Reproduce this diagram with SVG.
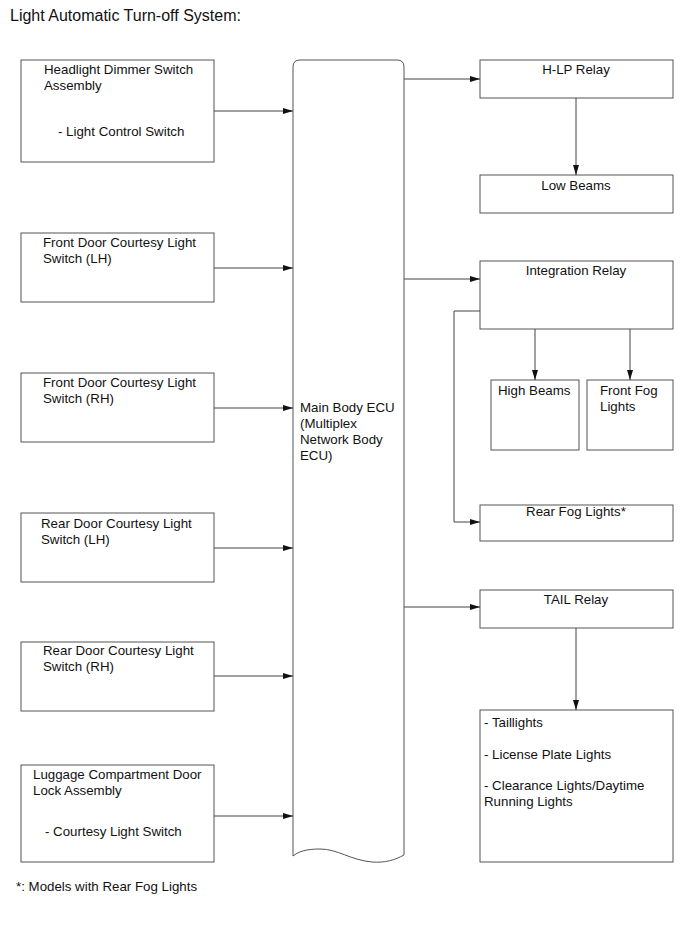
<svg xmlns="http://www.w3.org/2000/svg" width="690" height="952" viewBox="0 0 690 952">
<defs>
<marker id="ah" viewBox="0 0 10 6" refX="10" refY="3" markerWidth="10" markerHeight="6" markerUnits="userSpaceOnUse" orient="auto">
<path d="M0,0 L10,3 L0,6 z" fill="#111"/>
</marker>
</defs>
<style>
.b,.ecu{fill:#fff;stroke:#555;stroke-width:1}
text{font-family:"Liberation Sans",Arial,sans-serif;font-size:13.3px;fill:#111}
.c{text-anchor:middle}
.t{font-size:16px}
#connectors path,#connectors line{fill:none;stroke:#444;stroke-width:1;marker-end:url(#ah)}
</style>
<rect width="690" height="952" fill="#fff"/>
<text class="t" x="10" y="21">Light Automatic Turn-off System:</text>

<g id="ecu">
<path class="ecu" d="M293,856 L293,67 Q293,60 300,60 L397,60 Q404,60 404,67 L404,855 C395,860 385,863 372,862 C350,860 338,849 320,849 C305,849 298,852 293,856 Z"/>
<text x="300" y="412">Main Body ECU</text>
<text x="300" y="428">(Multiplex</text>
<text x="300" y="444">Network Body</text>
<text x="300" y="460">ECU)</text>
</g>

<g id="n1"><rect class="b" x="21" y="60" width="193" height="102"/>
<text x="44" y="74">Headlight Dimmer Switch</text><text x="44" y="90">Assembly</text>
<text x="58" y="136">- Light Control Switch</text></g>
<g id="n2"><rect class="b" x="21" y="233" width="193" height="69"/>
<text x="43" y="247">Front Door Courtesy Light</text><text x="43" y="263">Switch (LH)</text></g>
<g id="n3"><rect class="b" x="21" y="373" width="193" height="69"/>
<text x="43" y="387">Front Door Courtesy Light</text><text x="43" y="403">Switch (RH)</text></g>
<g id="n4"><rect class="b" x="21" y="513" width="193" height="69"/>
<text x="41" y="528">Rear Door Courtesy Light</text><text x="41" y="544">Switch (LH)</text></g>
<g id="n5"><rect class="b" x="21" y="642" width="193" height="69"/>
<text x="43" y="655">Rear Door Courtesy Light</text><text x="43" y="671">Switch (RH)</text></g>
<g id="n6"><rect class="b" x="21" y="765" width="193" height="97"/>
<text x="33" y="779">Luggage Compartment Door</text><text x="33" y="795">Lock Assembly</text>
<text x="45" y="836">- Courtesy Light Switch</text></g>

<g id="hlp"><rect class="b" x="480" y="60" width="193" height="38"/><text class="c" x="576" y="74">H-LP Relay</text></g>
<g id="low"><rect class="b" x="480" y="175" width="193" height="38"/><text class="c" x="576" y="190">Low Beams</text></g>
<g id="integ"><rect class="b" x="480" y="261" width="193" height="68"/><text class="c" x="576" y="275">Integration Relay</text></g>
<g id="high"><rect class="b" x="491" y="380" width="88" height="70"/><text x="498" y="395">High Beams</text></g>
<g id="ffog"><rect class="b" x="587" y="380" width="86" height="70"/><text x="600" y="395">Front Fog</text><text x="600" y="411">Lights</text></g>
<g id="rfog"><rect class="b" x="480" y="505" width="193" height="36"/><text class="c" x="576" y="516">Rear Fog Lights*</text></g>
<g id="tail"><rect class="b" x="480" y="590" width="193" height="38"/><text class="c" x="576" y="604">TAIL Relay</text></g>
<g id="lights"><rect class="b" x="480" y="710" width="193" height="152"/>
<text x="484" y="727">- Taillights</text>
<text x="484" y="759">- License Plate Lights</text>
<text x="484" y="790">- Clearance Lights/Daytime</text>
<text x="484" y="806">Running Lights</text></g>

<g id="connectors">
<line x1="214" y1="111" x2="293" y2="111"/>
<line x1="214" y1="268" x2="293" y2="268"/>
<line x1="214" y1="408" x2="293" y2="408"/>
<line x1="214" y1="548" x2="293" y2="548"/>
<line x1="214" y1="676" x2="293" y2="676"/>
<line x1="214" y1="816" x2="293" y2="816"/>
<line x1="404" y1="79" x2="480" y2="79"/>
<line x1="576" y1="98" x2="576" y2="175"/>
<line x1="404" y1="279" x2="480" y2="279"/>
<line x1="535" y1="329" x2="535" y2="380"/>
<line x1="630" y1="329" x2="630" y2="380"/>
<path d="M480,311 L454,311 L454,522 L480,522"/>
<line x1="404" y1="607" x2="480" y2="607"/>
<line x1="576" y1="628" x2="576" y2="710"/>
</g>

<text x="16" y="891">*: Models with Rear Fog Lights</text>
</svg>
